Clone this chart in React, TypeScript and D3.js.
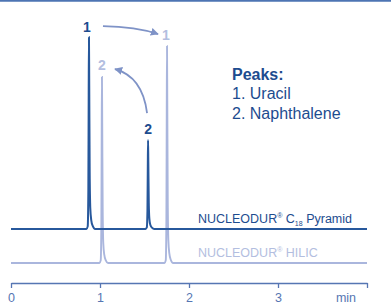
import React, { useEffect, useRef } from 'react';
import * as d3 from 'd3';

// time axis (min)
const xTicks = [0, 1, 2, 3, 4];
const tickLabels = ['0', '1', '2', '3', ''];
const axisUnit = 'min';

// chromatogram traces: [time (min), signal]
const c18Offset = 15.6;
const c18Trace: [number, number][] = [
  [0, 0], [0.8, 0],
  [0.848, 0], [0.862, 1.2], [0.869, 17.6], [0.873, 61.6], [0.876, 88], [0.879, 66], [0.884, 26.4], [0.891, 9.5], [0.902, 4], [0.918, 1.4], [0.945, 0],
  [1.2, 0],
  [1.512, 0], [1.526, 0.7], [1.533, 8.2], [1.537, 28.6], [1.540, 40.8], [1.543, 30.6], [1.548, 12.2], [1.555, 4.5], [1.566, 1.8], [1.584, 0.6], [1.610, 0],
  [2.5, 0], [4, 0],
];
const hilicTrace: [number, number][] = [
  [0, 0], [0.8, 0],
  [0.994, 0], [1.008, 1.2], [1.015, 17], [1.019, 59.7], [1.022, 85.3], [1.025, 64], [1.030, 25.6], [1.037, 9], [1.048, 3.8], [1.064, 1.3], [1.090, 0],
  [1.4, 0],
  [1.725, 0], [1.739, 1.3], [1.746, 19.9], [1.750, 69.7], [1.753, 99.5], [1.756, 74.6], [1.761, 29.9], [1.768, 10.5], [1.779, 4.4], [1.795, 1.5], [1.822, 0],
  [2.5, 0], [4, 0],
];

// peak apexes: time, height
const c18PeakTimes = [0.876, 1.540];
const c18PeakHeights = [88, 40.8];
const hilicPeakTimes = [1.753, 1.022];
const hilicPeakHeights = [99.5, 85.3];
const peakNumbers = ['1', '2'];

const legendTitle = 'Peaks:';
const peakNames = ['1. Uracil', '2. Naphthalene'];

const DARK = '#1d4c8f';
const LINE_DARK = '#27589c';
const LIGHT = '#aab6dd';
const LIGHT_TEXT = '#b3bee0';
const AXIS = '#5676b3';
const ARROW = '#7f93c7';

const W = 391;
const H = 306;
const FONT = '"Liberation Sans", Arial, Helvetica, sans-serif';

export default function App() {
  const axisRef = useRef<SVGGElement>(null);

  const x = d3.scaleLinear().domain([0, 4]).range([11, 367]);
  const y = d3.scaleLinear().domain([0, 100]).range([263, 45]);

  const line = (offset: number) =>
    d3.line<[number, number]>()
      .x(d => x(d[0]))
      .y(d => y(d[1] + offset))
      .curve(d3.curveMonotoneX);

  useEffect(() => {
    const g = d3.select(axisRef.current);
    g.selectAll('*').remove();
    g.call(
      d3.axisBottom(x)
        .tickValues(xTicks)
        .tickFormat((_, i) => tickLabels[i])
        .tickSize(5)
        .tickSizeOuter(0)
        .tickPadding(5)
    );
    g.attr('font-family', FONT).attr('font-size', 12.5);
    g.select('.domain').attr('stroke', AXIS).attr('stroke-width', 1.5);
    g.selectAll('.tick line').attr('stroke', AXIS).attr('stroke-width', 1.3);
    g.selectAll('.tick text').attr('fill', AXIS);
  }, []);

  // label anchor points
  const d1 = { x: x(c18PeakTimes[0]) - 2, y: y(c18PeakHeights[0] + c18Offset) - 5 };
  const d2 = { x: x(c18PeakTimes[1]), y: y(c18PeakHeights[1] + c18Offset) - 6 };
  const l1 = { x: x(hilicPeakTimes[0]) - 1, y: y(hilicPeakHeights[0]) - 6 };
  const l2 = { x: x(hilicPeakTimes[1]), y: y(hilicPeakHeights[1]) - 7 };

  return (
    <svg width={W} height={H} style={{ position: 'absolute', left: 0, top: 0, fontFamily: FONT }}>
      <defs>
        <marker id="ah" viewBox="0 0 10 10" refX="9" refY="5" markerWidth="8" markerHeight="8"
          markerUnits="userSpaceOnUse" orient="auto">
          <path d="M0,0 L10,5 L0,10 z" fill={ARROW} />
        </marker>
      </defs>
      <rect x={0} y={0} width={W} height={H} fill="#fff" />
      <line x1={0} x2={W} y1={0.8} y2={0.8} stroke="#4d74b3" strokeWidth={1.8} />

      <path d={line(0)(hilicTrace) || ''} fill="none" stroke={LIGHT} strokeWidth={1.9} />
      <path d={line(c18Offset)(c18Trace) || ''} fill="none" stroke={LINE_DARK} strokeWidth={2} />

      {/* peak numbers */}
      <g fontWeight="bold" fontSize={14} textAnchor="middle">
        <text x={d1.x} y={d1.y} fill={DARK}>{peakNumbers[0]}</text>
        <text x={d2.x} y={d2.y} fill={DARK}>{peakNumbers[1]}</text>
        <text x={l1.x} y={l1.y} fill={LIGHT_TEXT}>{peakNumbers[0]}</text>
        <text x={l2.x} y={l2.y} fill={LIGHT_TEXT}>{peakNumbers[1]}</text>
      </g>

      {/* shift arrows */}
      <path d={`M${d1.x + 16},${d1.y - 6} Q${d1.x + 49},${d1.y - 5.5} ${l1.x - 8},${l1.y - 6}`}
        fill="none" stroke={ARROW} strokeWidth={1.8} markerEnd="url(#ah)" />
      <path d={`M${d2.x - 1},${d2.y - 21} Q${d2.x - 5.5},${d2.y - 57.5} ${l2.x + 13},${l2.y - 1}`}
        fill="none" stroke={ARROW} strokeWidth={1.8} markerEnd="url(#ah)" />

      {/* trace names */}
      <text x={198} y={y(c18Offset) - 6} fontSize={12.5} fill={DARK}>
        NUCLEODUR<tspan fontSize={7} dy={-5}>®</tspan>
        <tspan dy={5}> C</tspan>
        <tspan fontSize={7} dy={3}>18</tspan>
        <tspan dy={-3}> Pyramid</tspan>
      </text>
      <text x={198} y={y(0) - 6} fontSize={12.5} fill={LIGHT_TEXT}>
        NUCLEODUR<tspan fontSize={7} dy={-5}>®</tspan>
        <tspan dy={5}> HILIC</tspan>
      </text>

      {/* legend */}
      <g fill={DARK} fontSize={16}>
        <text x={232} y={80} fontWeight="bold">{legendTitle}</text>
        {peakNames.map((n, i) => (
          <text key={n} x={232} y={99 + i * 20}>{n}</text>
        ))}
      </g>

      <g ref={axisRef} transform={`translate(0,${283})`} />
      <text x={346} y={302} fontSize={12.5} fill={AXIS} textAnchor="middle">{axisUnit}</text>
    </svg>
  );
}
